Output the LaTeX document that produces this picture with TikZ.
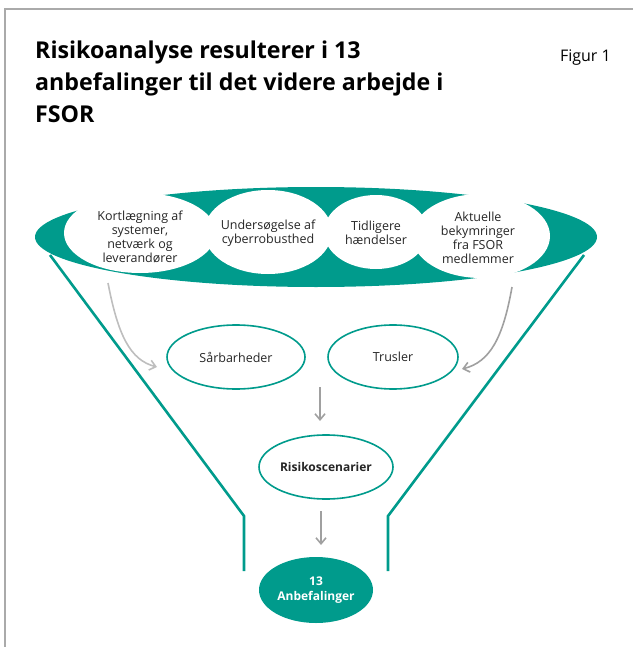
\documentclass[tikz,border=0pt]{standalone}
\usepackage{fontspec}
\setmainfont{Open Sans}
\usetikzlibrary{arrows.meta}
\definecolor{teal1}{RGB}{0,155,140}
\definecolor{frame}{RGB}{170,170,170}
\definecolor{arr1}{RGB}{190,190,190}
\definecolor{arr2}{RGB}{160,160,160}
\begin{document}
\begin{tikzpicture}[x=1pt,y=-1pt,
  lbl/.style={font=\fontsize{12.5}{14}\selectfont, align=center, text=black!85},
  oval/.style={draw=teal1, line width=1.6pt, fill=white},
  funnel/.style={draw=teal1, line width=2.6pt},
  garrow/.style={draw=arr2, line width=1.6pt, -{Straight Barb[length=6pt,width=10pt]}},
]
\useasboundingbox (0,0) rectangle (633,647);
% frame
\draw[frame, line width=2pt] (5,647) -- (5,9) -- (633,9);
% title
\node[anchor=north west, align=left, font=\bfseries\fontsize{23.2}{32}\selectfont, inner sep=0pt] (title) at (35,41)
  {Risikoanalyse resulterer i 13\\anbefalinger til det videre arbejde i\\FSOR};
\node[anchor=north east, font=\fontsize{16}{18}\selectfont, inner sep=0pt] (fig) at (611,50) {Figur 1};
% funnel lines
\coordinate (fl1) at (50,255);
\coordinate (fl2) at (244,516);
\coordinate (fl3) at (244,571);
\coordinate (fr1) at (584,255);
\coordinate (fr2) at (388,516);
\coordinate (fr3) at (388,571);
\draw[funnel] (fl1) -- (fl2) -- (fl3);
\draw[funnel] (fr1) -- (fr2) -- (fr3);
% top ellipse
\fill[teal1] (316,237) ellipse [x radius=281, y radius=50];
\fill[white] (140,233) ellipse [x radius=76, y radius=40];
\fill[white] (268,232) ellipse [x radius=64, y radius=42];
\fill[white] (376,232) ellipse [x radius=52, y radius=37];
\fill[white] (481,236) ellipse [x radius=69, y radius=42];
\node[lbl] (k) at (140,237) {Kortlægning af\\systemer,\\netværk og\\leverandører};
\node[lbl] (u) at (268,233) {Undersøgelse af\\cyberrobusthed};
\node[lbl] (t) at (376,233) {Tidligere\\hændelser};
\node[lbl] (a) at (478,238) {Aktuelle\\bekymringer\\fra FSOR\\medlemmer};
% middle ovals
\draw[oval] (236,357) ellipse [x radius=69, y radius=32];
\node[lbl] (s) at (236,357) {Sårbarheder};
\draw[oval] (393,357) ellipse [x radius=65, y radius=32];
\node[lbl] (tr) at (393,357) {Trusler};
\draw[oval] (326,467) ellipse [x radius=67, y radius=32];
\node[lbl, font=\bfseries\fontsize{12}{14}\selectfont] (r) at (326,467) {Risikoscenarier};
\fill[teal1] (316,590) ellipse [x radius=57, y radius=33];
\node[lbl, text=white, font=\bfseries\fontsize{12}{15}\selectfont] (n) at (316,590) {13\\Anbefalinger};
% arrows
\coordinate (c1) at (108,283);
\coordinate (c2) at (157,367);
\coordinate (c3) at (512,287);
\coordinate (c4) at (462,369);
\draw[garrow, draw=arr1] (c1) .. controls (118,335) and (130,360) .. (c2);
\draw[garrow] (c3) .. controls (503,338) and (490,362) .. (c4);
\coordinate (d1) at (320,387);
\coordinate (d2) at (320,421);
\coordinate (d3) at (321,511);
\coordinate (d4) at (321,545);
\draw[garrow] (d1) -- (d2);
\draw[garrow] (d3) -- (d4);
\end{tikzpicture}
\end{document}
